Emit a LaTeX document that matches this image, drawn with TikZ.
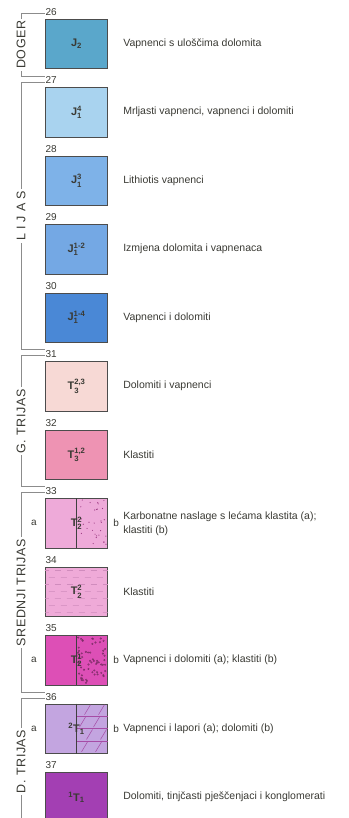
\documentclass[tikz,border=0pt]{standalone}
\usepackage{xcolor}
\usepackage{amsmath}
\usepackage{fontspec}
\setmainfont{Liberation Sans}
\newfontfamily\periodfont[LetterSpace=5]{Liberation Sans}
\usepackage{tikz}
\usetikzlibrary{calc,positioning}

\definecolor{c26}{HTML}{5AA7CB}
\definecolor{c27}{HTML}{A9D3EF}
\definecolor{c28}{HTML}{7EB2E8}
\definecolor{c29}{HTML}{74A8E4}
\definecolor{c30}{HTML}{4A88D6}
\definecolor{c31}{HTML}{F7D9D5}
\definecolor{c32}{HTML}{EE93B3}
\definecolor{c33}{HTML}{EEAAD9}
\definecolor{c34}{HTML}{EFAAD8}
\definecolor{c35}{HTML}{DD4FB6}
\definecolor{c36}{HTML}{C3A5E0}
\definecolor{c37}{HTML}{A33FB3}
\definecolor{ink}{HTML}{3A3A34}

\begin{document}
\begin{tikzpicture}
          [x=1pt, y=-1pt,
           box/.style={draw=black!70,line width=0.7pt,minimum width=62.5pt,minimum height=49.5pt,inner sep=0pt,
                       text=ink,font=\bfseries\fontsize{11}{12}\selectfont},
           desc/.style={inner sep=0pt,anchor=west,align=left,text=ink,font=\fontsize{10.5}{14}\selectfont},
           num/.style={inner sep=0.5pt,text=ink,font=\fontsize{10}{10}\selectfont},
           side/.style={inner sep=0pt,text=ink,font=\fontsize{10}{10}\selectfont},
           period/.style={fill=white,rotate=90,inner sep=2pt,text=ink,font=\periodfont\fontsize{12.5}{13}\selectfont},
           bracket/.style={draw=black!45,line width=0.9pt},
           node distance=68.5pt,
           on grid
          ]
          \useasboundingbox (0,0) rectangle (348,818);
          % columns
          \node[box,fill=c26] (b26) at (76.5,43.75) {J$_{\text{2}}$};
          \node[box,fill=c27,below=of b26] (b27) {J$_{\text{1}}^{\text{4}}$};
          \node[box,fill=c28,below=of b27] (b28) {J$_{\text{1}}^{\text{3}}$};
          \node[box,fill=c29,below=of b28] (b29) {J$_{\text{1}}^{\text{1-2}}$};
          \node[box,fill=c30,below=of b29] (b30) {J$_{\text{1}}^{\text{1-4}}$};
          \node[box,fill=c31,below=of b30] (b31) {T$_{\text{3}}^{\text{2,3}}$};
          \node[box,fill=c32,below=of b31] (b32) {T$_{\text{3}}^{\text{1,2}}$};
          \node[box,fill=c33,below=of b32] (b33) {};
          \node[box,fill=c34,below=of b33] (b34) {};
          \node[box,fill=c35,below=of b34] (b35) {};
          \node[box,fill=c36,below=of b35] (b36) {};
          \node[box,fill=c37,below=of b36] (b37) {${}^{\text{1}}$T$_{\text{1}}$};

          % patterns
          \begin{scope}
            \clip (b33.north) rectangle (b33.south east);
            \pgfmathsetseed{33}
            \foreach \i in {1,...,30}
              \fill[c35!70!black] ($(b33.north)+({rnd*29+1},{rnd*47+1})$) circle (0.6);
          \end{scope}
          \begin{scope}
            \clip (b34.north west) rectangle (b34.south east);
            \foreach \r in {0,...,6}
              \foreach \c in {0,...,5}
                \draw[c35!80!black!60,line width=0.6pt] ($(b34.north west)+({\c*12+mod(\r,2)*6-2},{\r*7+4})$)
                  .. controls ++(2,-1.2) and ++(-2,1.2) .. ++(6,0);
          \end{scope}
          \begin{scope}
            \clip (b35.north) rectangle (b35.south east);
            \pgfmathsetseed{35}
            \foreach \i in {1,...,60}
              \draw[c35!55!black,line width=0.4pt] ($(b35.north)+({rnd*29+1},{rnd*47+1})$) circle (0.8);
          \end{scope}
          \begin{scope}
            \clip (b36.north) rectangle (b36.south east);
            \foreach \k in {1,2,3}
              \draw[violet!70,line width=0.5pt] ($(b36.north)+(0,{\k*12.4})$) -- ++(31,0);
            \foreach \k/\x in {0/8,0/22,1/3,1/17,2/10,2/24,3/5,3/19}
              \draw[violet!70,line width=0.5pt] ($(b36.north)+(\x,{\k*12.4+11})$) -- ++(6,-10);
          \end{scope}
          \draw[black!75,line width=0.7pt]
            (b33.north) -- (b33.south)
            (b35.north) -- (b35.south)
            (b36.north) -- (b36.south);
          \node[text=ink,font=\bfseries\fontsize{11}{12}\selectfont] at (b33) {T$_{\text{2}}^{\text{2}}$};
          \node[text=ink,font=\bfseries\fontsize{11}{12}\selectfont] at (b34) {T$_{\text{2}}^{\text{2}}$};
          \node[text=ink,font=\bfseries\fontsize{11}{12}\selectfont] at (b35) {T$_{\text{2}}^{\text{1}}$};
          \node[text=ink,font=\bfseries\fontsize{11}{12}\selectfont] at (b36) {${}^{\text{2}}$T$_{\text{1}}$};

          % a / b
          \node[side,left=8pt of b33.west] (a33) {a};
          \node[side,right=5pt of b33.east] (r33) {b};
          \node[side,left=8pt of b35.west] (a35) {a};
          \node[side,right=5pt of b35.east] (r35) {b};
          \node[side,left=8pt of b36.west] (a36) {a};
          \node[side,right=5pt of b36.east] (r36) {b};

          % numbers
          \foreach \n in {26,...,37}
            \node[num,above right=2.5pt and 0pt of b\n.north west,anchor=south west] (n\n) {\n};

          % descriptions
          \node[desc,right=15pt of b26.east,anchor=west] (d26) {Vapnenci s uloščima dolomita};
          \node[desc,right=15pt of b27.east,anchor=west] (d27) {Mrljasti vapnenci, vapnenci i dolomiti};
          \node[desc,right=15pt of b28.east,anchor=west] (d28) {Lithiotis vapnenci};
          \node[desc,right=15pt of b29.east,anchor=west] (d29) {Izmjena dolomita i vapnenaca};
          \node[desc,right=15pt of b30.east,anchor=west] (d30) {Vapnenci i dolomiti};
          \node[desc,right=15pt of b31.east,anchor=west] (d31) {Dolomiti i vapnenci};
          \node[desc,right=15pt of b32.east,anchor=west] (d32) {Klastiti};
          \node[desc,right=15pt of b33.east,anchor=west] (d33) {Karbonatne naslage s lećama klastita (a);\\klastiti (b)};
          \node[desc,right=15pt of b34.east,anchor=west] (d34) {Klastiti};
          \node[desc,right=15pt of b35.east,anchor=west] (d35) {Vapnenci i dolomiti (a); klastiti (b)};
          \node[desc,right=15pt of b36.east,anchor=west] (d36) {Vapnenci i lapori (a); dolomiti (b)};
          \node[desc,right=15pt of b37.east,anchor=west] (d37) {Dolomiti, tinjčasti pješčenjaci i konglomerati};

          % periods
          \coordinate (brk) at (21,0);
          \coordinate[below=1.5pt of n26.west] (t26);
          \coordinate[above=4.5pt of n27.west] (u27);
          \coordinate[below=1.5pt of n27.west] (t27);
          \coordinate[above=4.5pt of n31.west] (u31);
          \coordinate[below=1.5pt of n31.west] (t31);
          \coordinate[above=4.5pt of n33.west] (u33);
          \coordinate[below=1.5pt of n33.west] (t33);
          \coordinate[above=4.5pt of n36.west] (u36);
          \coordinate[below=1.5pt of n36.west] (t36);
          \draw[bracket] (t26) -- (t26 -| brk) -- node[period] {DOGER} (u27 -| brk) -- (u27);
          \draw[bracket] (t27) -- (t27 -| brk) -- node[period] {L I J A S} (u31 -| brk) -- (u31);
          \draw[bracket] (t31) -- (t31 -| brk) -- node[period] {G. TRIJAS} (u33 -| brk) -- (u33);
          \draw[bracket] (t33) -- (t33 -| brk) -- node[period] {SREDNJI TRIJAS} (u36 -| brk) -- (u36);
          \draw[bracket] (t36) -- (t36 -| brk) -- node[period] {D. TRIJAS} ++(0,126);
        \end{tikzpicture}
\end{document}
